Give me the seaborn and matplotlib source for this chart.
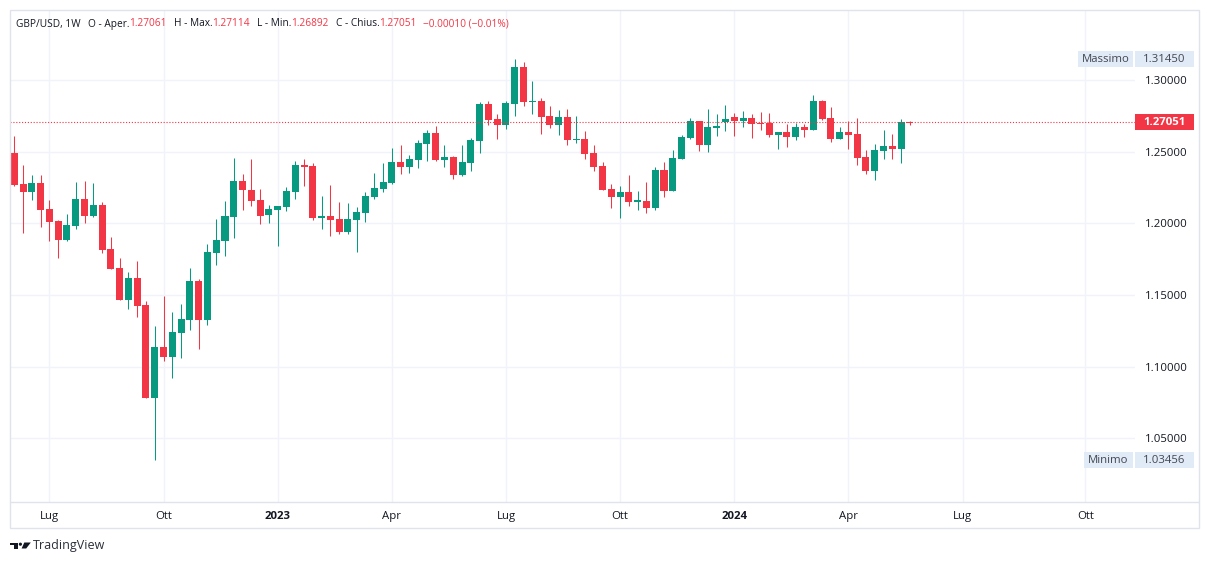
import pandas as pd
import seaborn as sns
import matplotlib
matplotlib.use("Agg")
from matplotlib import pyplot as plt
import matplotlib.dates as mdates
from matplotlib.transforms import blended_transform_factory
from matplotlib.patches import Rectangle, Polygon, Circle
from matplotlib.lines import Line2D

# weekly GBP/USD candles, first bar = week of 6 Jun 2022
first_week = "2022-06-06"
opens = [1.2493, 1.2274, 1.2221, 1.2281, 1.2100, 1.2016, 1.1886, 1.1981, 1.2170, 1.2053,
         1.2128, 1.1821, 1.1688, 1.1465, 1.1619, 1.1430, 1.0784, 1.1137, 1.1070, 1.1237,
         1.1326, 1.1598, 1.1326, 1.1795, 1.1877, 1.2046, 1.2295, 1.2232, 1.2163, 1.2060,
         1.2095, 1.2116, 1.2221, 1.2407, 1.2400, 1.2040, 1.2053, 1.2030, 1.1942, 1.2026,
         1.2074, 1.2186, 1.2242, 1.2284, 1.2428, 1.2395, 1.2444, 1.2556, 1.2630, 1.2444,
         1.2463, 1.2339, 1.2423, 1.2577, 1.2832, 1.2728, 1.2688, 1.2832, 1.3090, 1.2846,
         1.2853, 1.2749, 1.2688, 1.2742, 1.2581, 1.2588, 1.2491, 1.2400, 1.2239, 1.2186,
         1.2219, 1.2151, 1.2156, 1.2109, 1.2372, 1.2228, 1.2451, 1.2598, 1.2714, 1.2549,
         1.2667, 1.2709, 1.2740, 1.2716, 1.2733, 1.2702, 1.2702, 1.2619, 1.2637, 1.2605,
         1.2672, 1.2654, 1.2854, 1.2735, 1.2591, 1.2637, 1.2626, 1.2463, 1.2368, 1.2507,
         1.2540, 1.2521, 1.27061]
highs = [1.2609, 1.2407, 1.2337, 1.2337, 1.2163, 1.2023, 1.2065, 1.2288, 1.2295, 1.2281,
         1.2149, 1.1905, 1.1758, 1.1661, 1.1737, 1.1456, 1.1284, 1.1493, 1.1382, 1.1437,
         1.1688, 1.1612, 1.1856, 1.2030, 1.2156, 1.2456, 1.2344, 1.2449, 1.2239, 1.2128,
         1.2121, 1.2253, 1.2435, 1.2449, 1.2421, 1.2191, 1.2267, 1.2149, 1.2142, 1.2114,
         1.2219, 1.2351, 1.2421, 1.2525, 1.2546, 1.2477, 1.2581, 1.2651, 1.2679, 1.2546,
         1.2470, 1.2546, 1.2595, 1.2846, 1.2853, 1.2763, 1.2853, 1.3145, 1.3125, 1.2993,
         1.2874, 1.2818, 1.2790, 1.2797, 1.2749, 1.2644, 1.2546, 1.2428, 1.2274, 1.2260,
         1.2337, 1.2226, 1.2288, 1.2393, 1.2428, 1.2512, 1.2616, 1.2735, 1.2714, 1.2797,
         1.2763, 1.2825, 1.2770, 1.2784, 1.2763, 1.2777, 1.2770, 1.2640, 1.2695, 1.2702,
         1.2695, 1.2895, 1.2860, 1.2812, 1.2674, 1.2714, 1.2735, 1.2514, 1.2556, 1.2651,
         1.2626, 1.2728, 1.27114]
lows = [1.2262, 1.1935, 1.2163, 1.1977, 1.1879, 1.1761, 1.1877, 1.1963, 1.2005, 1.2046,
        1.1795, 1.1680, 1.1462, 1.1403, 1.1349, 1.0780, 1.0346, 1.1042, 1.0924, 1.1063,
        1.1256, 1.1124, 1.1291, 1.1709, 1.1772, 1.1898, 1.2093, 1.2123, 1.1998, 1.2005,
        1.1844, 1.2088, 1.2172, 1.2263, 1.2026, 1.1963, 1.1914, 1.1928, 1.1928, 1.1802,
        1.2012, 1.2172, 1.2221, 1.2277, 1.2346, 1.2353, 1.2388, 1.2437, 1.2437, 1.2395,
        1.2312, 1.2332, 1.2367, 1.2493, 1.2688, 1.2588, 1.2660, 1.2751, 1.2821, 1.2765,
        1.2625, 1.2667, 1.2618, 1.2549, 1.2563, 1.2451, 1.2367, 1.2232, 1.2109, 1.2040,
        1.2123, 1.2095, 1.2074, 1.2095, 1.2186, 1.2226, 1.2449, 1.2591, 1.2507, 1.2500,
        1.2611, 1.2646, 1.2612, 1.2674, 1.2598, 1.2654, 1.2605, 1.2521, 1.2535, 1.2584,
        1.2605, 1.2652, 1.2723, 1.2570, 1.2589, 1.2521, 1.2409, 1.2347, 1.2305, 1.2451,
        1.2451, 1.2423, 1.26892]
closes = [1.2267, 1.2221, 1.2281, 1.2093, 1.2012, 1.1886, 1.1988, 1.2170, 1.2053, 1.2128,
          1.1816, 1.1684, 1.1465, 1.1619, 1.1426, 1.0784, 1.1137, 1.1070, 1.1242, 1.1333,
          1.1598, 1.1326, 1.1800, 1.1884, 1.2051, 1.2295, 1.2233, 1.2156, 1.2053, 1.2100,
          1.2121, 1.2226, 1.2407, 1.2395, 1.2040, 1.2053, 1.2026, 1.1942, 1.2030, 1.2079,
          1.2191, 1.2246, 1.2288, 1.2428, 1.2395, 1.2449, 1.2560, 1.2630, 1.2444, 1.2463,
          1.2339, 1.2428, 1.2581, 1.2832, 1.2723, 1.2688, 1.2839, 1.3090, 1.2846, 1.2853,
          1.2742, 1.2688, 1.2742, 1.2584, 1.2588, 1.2486, 1.2395, 1.2235, 1.2186, 1.2219,
          1.2151, 1.2163, 1.2109, 1.2372, 1.2228, 1.2456, 1.2602, 1.2714, 1.2549, 1.2672,
          1.2679, 1.2728, 1.2716, 1.2733, 1.2695, 1.2695, 1.2619, 1.2637, 1.2605, 1.2672,
          1.2654, 1.2854, 1.2730, 1.2591, 1.2637, 1.2619, 1.2458, 1.2368, 1.2512, 1.2540,
          1.2521, 1.2707, 1.27051]

tick_dates = ["2022-07-04", "2022-10-03", "2023-01-02", "2023-04-03", "2023-07-03",
              "2023-10-02", "2024-01-01", "2024-04-01", "2024-07-01", "2024-10-07"]
tick_labels = ["Lug", "Ott", "2023", "Apr", "Lug", "Ott", "2024", "Apr", "Lug", "Ott"]
price_ticks = [1.05, 1.10, 1.15, 1.20, 1.25, 1.30]

max_price = 1.31450
min_price = 1.03456
last_price = closes[-1]

# legend pieces: (text, red?, space before in px)
header = [("GBP/USD, 1W", False, 0), ("O - Aper.", False, 7), ("1.27061", True, 0),
          ("H - Max.", False, 7), ("1.27114", True, 0), ("L - Min.", False, 7),
          ("1.26892", True, 0), ("C - Chius.", False, 7), ("1.27051", True, 0),
          ("\u22120.00010 (\u22120.01%)", True, 6)]

UP = "#089981"
DOWN = "#F23645"
TXT = "#131722"
GRID = "#f0f3fa"
BORDER = "#e0e3eb"

sns.set_theme(style="white")
plt.rcParams["font.family"] = ["Open Sans", "DejaVu Sans"]

df = pd.DataFrame({"week": pd.date_range(first_week, periods=len(opens), freq="7D"),
                   "open": opens, "high": highs, "low": lows, "close": closes})
df["x"] = mdates.date2num(df["week"])
df["color"] = [UP if c >= o else DOWN for o, c in zip(df.open, df.close)]
body = (df.close - df.open).abs().clip(lower=0.0008)
mid = (df.close + df.open) / 2

W, H = 1209, 564
fig = plt.figure(figsize=(W / 100, H / 100), dpi=100)
fig.patch.set_facecolor("white")
ax = fig.add_axes([10 / W, (H - 501.7) / H, 1125 / W, 490.7 / H])

ax.vlines(df.x, df.low, df.high, colors=df.color, lw=0.75, zorder=2)
ax.bar(df.x, body, bottom=mid - body / 2, width=5.6, color=df.color, linewidth=0, zorder=3)

x0 = df.x.iloc[0]
ax.set_xlim(x0 - 3.4, x0 + 893.5)
ax.set_ylim(1.0058, 1.3481)

ax.axhline(last_price, color=DOWN, lw=0.8, ls=(0, (1, 1.6)), zorder=4)

ax.set_xticks(mdates.date2num(pd.to_datetime(tick_dates)))
ax.set_xticklabels(tick_labels)
for lab in ax.get_xticklabels():
    if lab.get_text().isdigit():
        lab.set_fontweight("bold")
ax.yaxis.tick_right()
ax.set_yticks(price_ticks)
ax.set_yticklabels([f"{p:.5f}" for p in price_ticks])
ax.tick_params(axis="y", length=0, pad=7, labelsize=8.2, labelcolor=TXT)
ax.tick_params(axis="x", length=0, pad=7, labelsize=8.2, labelcolor=TXT)
ax.grid(True, color=GRID, lw=1)
ax.set_axisbelow(True)
for s in ax.spines.values():
    s.set_visible(False)

# price labels on the right scale
trans = blended_transform_factory(ax.transAxes, ax.transData)


def fx(px):
    return (px - 10) / 1125


hpx = 1 / 1433.2


def tag(px_left, px_right, price, text, fc, color, weight="normal"):
    ax.add_patch(Rectangle((fx(px_left), price - 8 * hpx), fx(px_right) - fx(px_left), 16 * hpx,
                           transform=trans, fc=fc, ec="none", clip_on=False, zorder=5))
    ax.text(fx((px_left + px_right) / 2), price, text, transform=trans, ha="center", va="center",
            fontsize=8.2, color=color, fontweight=weight, clip_on=False, zorder=6)


tag(1078, 1133, max_price, "Massimo", "#e1ebf8", "#434651")
tag(1135, 1194, max_price, f"{max_price:.5f}", "#e1ebf8", "#434651")
tag(1084, 1133, min_price, "Minimo", "#e1ebf8", "#434651")
tag(1135, 1194, min_price, f"{min_price:.5f}", "#e1ebf8", "#434651")
tag(1135, 1194, last_price, f"{last_price:.5f}", DOWN, "white", "bold")

# frame
fig.add_artist(Rectangle((10 / W, 36 / H), 1189 / W, 518 / H, transform=fig.transFigure,
                         fill=False, ec=BORDER, lw=1))
fig.add_artist(Line2D([10 / W, 1199 / W], [(H - 501.7) / H] * 2, transform=fig.transFigure,
                      color=BORDER, lw=1))

# legend line at the top, pieces laid out one after another
renderer = fig.canvas.get_renderer()
px = 16
for txt, red, gap in header:
    px += gap
    t = fig.text(px / W, (H - 24) / H, txt, ha="left", va="center", fontsize=7.3,
                 color=DOWN if red else TXT)
    px += t.get_window_extent(renderer).width

# TradingView mark (pixel coords, origin bottom-left)
logo = "#131722"


def flip(pts):
    return [(x, H - y) for x, y in pts]


fig.add_artist(Polygon(flip([(10, 542.5), (17.5, 542.5), (17.5, 548.5), (13.6, 548.5),
                             (13.6, 545.2), (10, 545.2)]),
                       closed=True, transform=None, fc=logo, ec="none"))
fig.add_artist(Circle((20.4, H - 544.2), 1.6, transform=None, fc=logo, ec="none"))
fig.add_artist(Polygon(flip([(24.3, 542.5), (30.8, 542.5), (26.2, 548.5), (21.6, 548.5)]),
                       closed=True, transform=None, fc=logo, ec="none"))
fig.text(33 / W, (H - 546) / H, "TradingView", ha="left", va="center", fontsize=9, color="#2a2e39")

fig.savefig("out.png", dpi=100)
